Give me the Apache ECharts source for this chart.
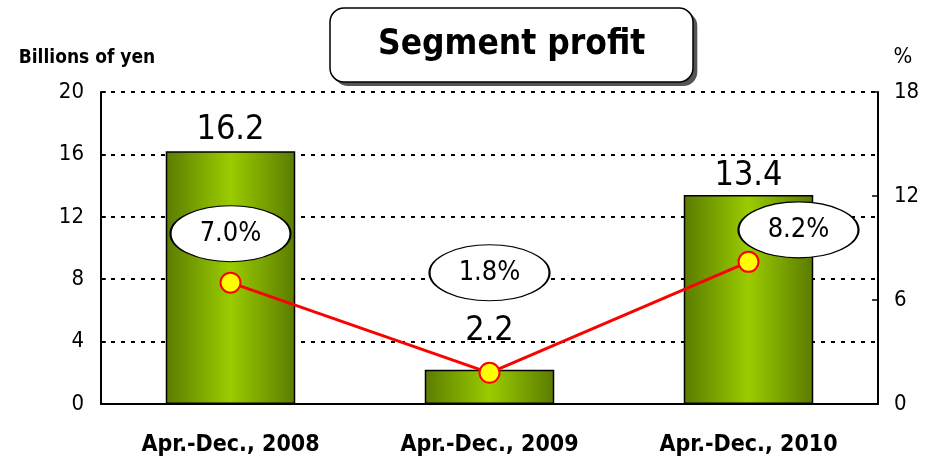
<!DOCTYPE html>
<html>
<head>
<meta charset="utf-8">
<title>Segment profit</title>
<script src="https://cdn.jsdelivr.net/npm/echarts@6/dist/echarts.min.js"></script>
<style>
    html, body { margin: 0; padding: 0; background: #fff; }
    #main { width: 936px; height: 463px; }
</style>
</head>
<body>
<div id="main"></div>
<script>
    // data
    var categories = ['Apr.-Dec., 2008', 'Apr.-Dec., 2009', 'Apr.-Dec., 2010'];
    var profit = [16.2, 2.2, 13.4];      // billions of yen
    var margin = [7.0, 1.8, 8.2];        // %
    var leftTicks = { min: 0, max: 20, interval: 4 };
    var rightTicks = { min: 0, max: 18, interval: 6 };

    var narrow = "'Liberation Sans Narrow', 'DejaVu Sans Condensed', sans-serif";

    // label placement per point (style, not data)
    var barLabelGap = [4, 22, 2];
    var ovalOffset = [[0, -49], [0, -100], [50, -32]];

    var barData = profit.map(function (v, i) {
        return { value: v, label: { distance: barLabelGap[i] } };
    });
    var ovalData = margin.map(function (v, i) {
        return { value: v, symbolOffset: ovalOffset[i] };
    });

    // title box + its drop shadow (a second box drawn behind, shifted)
    var titleText = {
        fontFamily: narrow,
        fontSize: 35,
        fontWeight: 'bold',
        lineHeight: 44,
        color: '#000'
    };

    var myChart = echarts.init(document.getElementById('main'));
    var option = {
        animation: false,
        title: [{
            text: 'Segment profit',
            left: 334,
            top: 12,
            padding: [15, 48],
            backgroundColor: '#555',
            borderRadius: 14,
            textStyle: Object.assign({}, titleText, { color: 'rgba(0,0,0,0)' })
        }, {
            text: 'Segment profit',
            left: 330,
            top: 8,
            padding: [15, 48],
            backgroundColor: '#fff',
            borderColor: '#000',
            borderWidth: 1.5,
            borderRadius: 14,
            textStyle: titleText
        }],
        grid: {
            left: 101,
            right: 58,
            top: 92,
            bottom: 59
        },
        xAxis: {
            type: 'category',
            data: categories,
            axisLine: { lineStyle: { color: '#000', width: 2 } },
            axisTick: { inside: true, length: 8, lineStyle: { color: '#000', width: 1.5 } },
            axisLabel: {
                interval: 0,
                margin: 30,
                fontFamily: narrow,
                fontSize: 23,
                fontWeight: 'bold',
                color: '#000'
            }
        },
        yAxis: [{
            type: 'value',
            min: leftTicks.min,
            max: leftTicks.max,
            interval: leftTicks.interval,
            name: 'Billions of yen',
            nameLocation: 'end',
            nameGap: 24,
            nameTextStyle: {
                fontFamily: narrow,
                fontSize: 19,
                fontWeight: 'bold',
                color: '#000',
                align: 'center',
                padding: [0, 28, 0, 0]
            },
            axisLine: { show: true, lineStyle: { color: '#000', width: 2 } },
            axisTick: { show: true, inside: true, length: 5, lineStyle: { color: '#000', width: 1.5 } },
            axisLabel: {
                margin: 17,
                fontFamily: narrow,
                fontSize: 22,
                color: '#000'
            },
            splitLine: { lineStyle: { color: '#000', width: 2, type: [4, 6] } }
        }, {
            type: 'value',
            min: rightTicks.min,
            max: rightTicks.max,
            interval: rightTicks.interval,
            name: '%',
            nameLocation: 'end',
            nameGap: 24,
            nameTextStyle: {
                fontFamily: narrow,
                fontSize: 22,
                color: '#000',
                align: 'center',
                padding: [0, 0, 0, 50]
            },
            axisLine: { show: true, lineStyle: { color: '#000', width: 2 } },
            axisTick: { show: true, inside: true, length: 6, lineStyle: { color: '#000', width: 1.5 } },
            axisLabel: {
                margin: 16,
                fontFamily: narrow,
                fontSize: 22,
                color: '#000'
            },
            splitLine: { show: false }
        }],
        series: [{
            name: 'Segment profit',
            type: 'bar',
            barWidth: '50%',
            data: barData,
            itemStyle: {
                color: new echarts.graphic.LinearGradient(0, 0, 1, 0, [
                    { offset: 0, color: '#5b7b00' },
                    { offset: 0.5, color: '#9acc00' },
                    { offset: 1, color: '#5b7b00' }
                ]),
                borderColor: '#000',
                borderWidth: 1.5
            },
            label: {
                show: true,
                position: 'top',
                fontFamily: narrow,
                fontSize: 34,
                color: '#000',
                formatter: function (p) { return p.value.toFixed(1); }
            },
            z: 2
        }, {
            name: 'Margin',
            type: 'line',
            yAxisIndex: 1,
            data: margin,
            symbol: 'circle',
            symbolSize: 20,
            lineStyle: { color: '#ff0000', width: 3 },
            itemStyle: { color: '#ffff00', borderColor: '#ff0000', borderWidth: 2 },
            z: 3
        }, {
            name: 'Margin label',
            type: 'scatter',
            yAxisIndex: 1,
            data: ovalData,
            symbol: 'circle',
            symbolSize: [120, 56],
            itemStyle: { color: '#fff', borderColor: '#000', borderWidth: 1.5, opacity: 1 },
            label: {
                show: true,
                position: 'inside',
                fontFamily: narrow,
                fontSize: 27,
                color: '#000',
                formatter: function (p) { return p.value.toFixed(1) + '%'; }
            },
            z: 4
        }]
    };
    myChart.setOption(option);
</script>
</body>
</html>
